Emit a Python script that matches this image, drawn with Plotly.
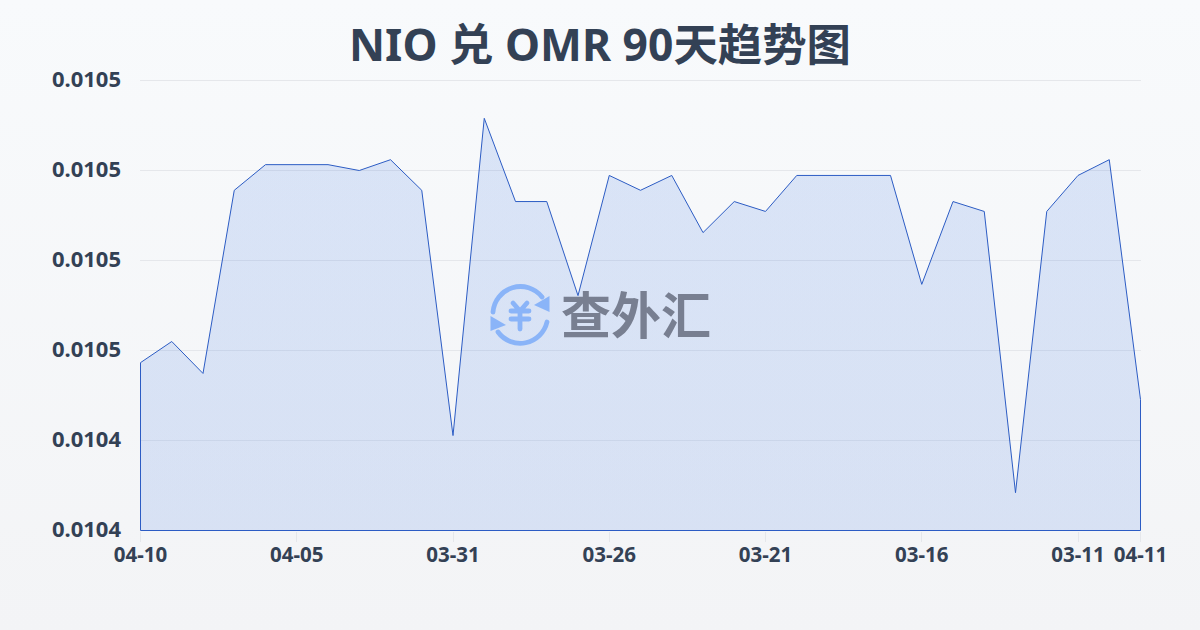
import base64
import plotly.graph_objects as go

dates = ["04-10","04-09","04-08","04-07","04-06","04-05","04-04","04-03","04-02","04-01","03-31",
         "03-30","03-29","03-28","03-27","03-26","03-25","03-24","03-23","03-22","03-21",
         "03-20","03-19","03-18","03-17","03-16","03-15","03-14","03-13","03-12","03-11","03-10","04-11"]
rates = [0.0104573,0.0104620,0.0104549,0.0104956,0.0105013,0.0105013,0.0105013,0.0105000,0.0105024,0.0104956,
         0.0104411,0.0105116,0.0104931,0.0104931,0.0104722,0.0104989,0.0104956,0.0104989,0.0104862,0.0104931,
         0.0104909,0.0104989,0.0104989,0.0104989,0.0104989,0.0104747,0.0104931,0.0104909,0.0104284,0.0104909,
         0.0104989,0.0105024,0.0104491]
y_ticks = [0.01042,0.01044,0.01046,0.01048,0.01050,0.01052]
y_labels = ["0.0104","0.0104","0.0105","0.0105","0.0105","0.0105"]
x_ticks = ["04-10","04-05","03-31","03-26","03-21","03-16","03-11","04-11"]
title = "NIO 兑 OMR 90天趋势图"
watermark = "查外汇"

def uri(svg):
    return "data:image/svg+xml;base64," + base64.b64encode(svg.encode()).decode()

bg = ('<svg xmlns="http://www.w3.org/2000/svg" width="1200" height="630" preserveAspectRatio="none">'
      '<defs><linearGradient id="g" x1="0" y1="0" x2="0" y2="1"><stop offset="0" stop-color="#f8fafc"/>'
      '<stop offset="1" stop-color="#f3f4f6"/></linearGradient></defs>'
      '<rect width="1200" height="630" fill="url(#g)"/></svg>')

icon = ('<svg xmlns="http://www.w3.org/2000/svg" width="64" height="64" viewBox="0 0 64 64">'
        '<g fill="none" stroke="#8ab4f8" stroke-width="4.8" stroke-linecap="round" stroke-linejoin="round">'
        '<path d="M5 29 A27.5 27.5 0 0 1 54 14"/><path d="M59 39 A27.5 27.5 0 0 1 10 49"/>'
        '<path d="M25 20 L32 28 L39 20 M23 28 H41 M23 36 H41 M32 28 V46"/></g>'
        '<path d="M61.5 13 L61.5 29 L46 22 Z" fill="#8ab4f8"/><path d="M2.5 33 L2.5 48 L18 42 Z" fill="#8ab4f8"/></svg>')

ymin, ymax = y_ticks[0], y_ticks[-1]
line_color = "#2c5cc4"
fig = go.Figure()
# Left, bottom and right edges of the area; the series fills down to this path.
fig.add_trace(go.Scatter(
    x=[dates[0], dates[0], dates[-1], dates[-1]], y=[rates[0], ymin, ymin, rates[-1]],
    mode="lines", line=dict(color=line_color, width=1), hoverinfo="skip", cliponaxis=False))
fig.add_trace(go.Scatter(
    x=dates, y=rates, mode="lines", line=dict(color=line_color, width=1),
    fill="tonexty", fillgradient=dict(type="vertical", colorscale=[[0, "rgba(50,110,225,0.145)"], [1, "rgba(50,110,225,0.15)"]]),
    hoverinfo="skip", cliponaxis=False))

# The plot box is one pixel larger than the data span so edges land on pixel centres.
L, T, W, H = 140, 80, 1001, 451
px_x = 1000 / (len(dates) - 1)
px_y = (ymax - ymin) / 450
font = "'Noto Sans','Noto Sans CJK SC',sans-serif"
fig.update_layout(
    width=1200, height=630, margin=dict(l=L, r=1200-L-W, t=T, b=630-T-H, autoexpand=False),
    paper_bgcolor="#f6f7f9", plot_bgcolor="rgba(0,0,0,0)", showlegend=False,
    title=dict(text=f"<b>{title}</b>", x=0.5, xref="container", xanchor="center", y=0.928, yanchor="middle",
               font=dict(family=font, size=44.4, color="#334155")),
    xaxis=dict(type="category", categoryorder="array", categoryarray=dates,
               range=[-0.5/px_x, len(dates)-1+0.5/px_x],
               tickmode="array", tickvals=x_ticks, ticktext=[f"<b>{t}</b>" for t in x_ticks],
               tickfont=dict(family=font, size=20.5, color="#334155"), ticks="outside", ticklen=10,
               tickcolor="#e5e7eb", tickwidth=1, showgrid=False, zeroline=False, showline=False,
               ticklabelstandoff=-5),
    yaxis=dict(range=[ymin-0.5*px_y, ymax+0.5*px_y], tickmode="array", tickvals=y_ticks, ticktext=[f"<b>{t}</b>" for t in y_labels],
               tickfont=dict(family=font, size=22, color="#334155"), ticks="", ticklabelstandoff=18, ticklabelshift=-1,
               showgrid=True, gridcolor="#e5e7eb", gridwidth=1, zeroline=False, showline=False),
    shapes=[dict(type="line", xref="paper", yref="y", x0=0, x1=1, y0=ymax, y1=ymax, layer="below",
                 line=dict(color="#e5e7eb", width=1))],
    images=[
        dict(source=uri(bg), xref="paper", yref="paper", x=-L/W, y=(T+H)/H, sizex=1200/W, sizey=630/H,
             xanchor="left", yanchor="top", sizing="stretch", layer="below"),
        dict(source=uri(icon), xref="paper", yref="paper", x=(488-L)/W, y=(T+H-283)/H, sizex=64/W, sizey=64/H,
             xanchor="left", yanchor="top", sizing="stretch", layer="above"),
    ],
    annotations=[dict(text=f"<b>{watermark}</b>", xref="paper", yref="paper", x=(636-L)/W, y=(T+H-312)/H,
                      xanchor="center", yanchor="middle", showarrow=False,
                      font=dict(family="'Noto Sans CJK SC'", size=50, color="#787f91"))],
)
fig.write_html("out.html", post_script="document.body.style.margin='0';", config=dict(displayModeBar=False))
